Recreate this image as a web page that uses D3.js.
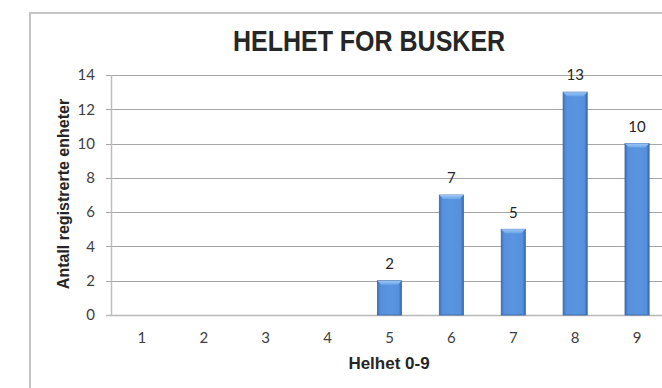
<!DOCTYPE html>
<html>
<head>
<meta charset="utf-8">
<script src="https://cdn.jsdelivr.net/npm/d3@7"></script>
<style>
  html, body { margin: 0; padding: 0; background: #fff; }
  svg { display: block; }
</style>
</head>
<body>
<svg id="chart" width="662" height="388"></svg>
<script>
// Ratings 1–9 and the number of registered units at each
const categories = ["1", "2", "3", "4", "5", "6", "7", "8", "9"];
const counts = [0, 0, 0, 0, 2, 7, 5, 13, 10];
const yTicks = [0, 2, 4, 6, 8, 10, 12, 14];

const titleText = "HELHET FOR BUSKER";
const xTitle = "Helhet 0-9";
const yTitle = "Antall registrerte enheter";

const svg = d3.select("#chart");
const plot = { left: 111, right: 668, top: 75, bottom: 315 };
const labelFont = "Lato, 'Open Sans', sans-serif";
const titleFont = "'Liberation Sans', Arial, sans-serif";

// Chart frame
svg.append("rect")
  .attr("x", 30).attr("y", 13)
  .attr("width", 700).attr("height", 400)
  .attr("fill", "#fff")
  .attr("stroke", "#c4c4c4").attr("stroke-width", 2);

const defs = svg.append("defs");
const grad = defs.append("linearGradient").attr("id", "barFill")
  .attr("x1", "0%").attr("x2", "100%").attr("y1", "0%").attr("y2", "0%");
grad.append("stop").attr("offset", "0%").attr("stop-color", "#3d6fb5");
grad.append("stop").attr("offset", "12%").attr("stop-color", "#5590dc");
grad.append("stop").attr("offset", "50%").attr("stop-color", "#5a95e0");
grad.append("stop").attr("offset", "88%").attr("stop-color", "#5590dc");
grad.append("stop").attr("offset", "100%").attr("stop-color", "#3a69aa");

const topGrad = defs.append("linearGradient").attr("id", "bevelFill")
  .attr("x1", "0%").attr("x2", "0%").attr("y1", "0%").attr("y2", "100%");
topGrad.append("stop").attr("offset", "0%").attr("stop-color", "#9cc6f5");
topGrad.append("stop").attr("offset", "100%").attr("stop-color", "#6aa6ea");

const x = d3.scaleBand()
  .domain(categories)
  .range([plot.left, plot.right])
  .paddingInner(0.61)
  .paddingOuter(0.305);

const y = d3.scaleLinear().domain([0, 14]).range([plot.bottom, plot.top]);

// Horizontal gridlines
svg.append("g")
  .selectAll("line")
  .data(yTicks)
  .join("line")
  .attr("x1", plot.left - 5).attr("x2", plot.right)
  .attr("y1", d => Math.round(y(d)) + 0.5)
  .attr("y2", d => Math.round(y(d)) + 0.5)
  .attr("stroke", d => d === 0 ? "#b8b8b8" : "#a6a6a6")
  .attr("stroke-width", d => d === 0 ? 1.5 : 1);

// Vertical axis line
svg.append("line")
  .attr("x1", plot.left + 0.5).attr("x2", plot.left + 0.5)
  .attr("y1", plot.top).attr("y2", plot.bottom)
  .attr("stroke", "#bdbdbd").attr("stroke-width", 1.5);

// Y tick labels
svg.append("g")
  .selectAll("text")
  .data(yTicks)
  .join("text")
  .attr("x", plot.left - 16)
  .attr("y", d => y(d))
  .attr("dy", "0.35em")
  .attr("text-anchor", "end")
  .attr("font-family", labelFont)
  .attr("font-size", 15)
  .attr("fill", "#404040")
  .text(d => d);

// X tick labels
svg.append("g")
  .selectAll("text")
  .data(categories)
  .join("text")
  .attr("x", d => x(d) + x.bandwidth() / 2)
  .attr("y", 338)
  .attr("dy", "0.35em")
  .attr("text-anchor", "middle")
  .attr("font-family", labelFont)
  .attr("font-size", 15)
  .attr("fill", "#404040")
  .text(d => d);

// Bars
const data = categories.map((c, i) => ({ c, v: counts[i] }));
const bars = svg.append("g").selectAll("g")
  .data(data.filter(d => d.v > 0))
  .join("g");

bars.append("rect")
  .attr("x", d => x(d.c))
  .attr("y", d => y(d.v))
  .attr("width", x.bandwidth())
  .attr("height", d => y(0) - y(d.v))
  .attr("fill", "url(#barFill)")
  .attr("stroke", "#3a68a8")
  .attr("stroke-width", 0.8);

// Bevel highlight on the bar tops
bars.append("path")
  .attr("d", d => {
    const x0 = x(d.c), x1 = x0 + x.bandwidth(), t = y(d.v);
    return `M${x0},${t} L${x1},${t} L${x1 - 4},${t + 4} L${x0 + 4},${t + 4} Z`;
  })
  .attr("fill", "url(#bevelFill)");

// Value labels
svg.append("g")
  .selectAll("text")
  .data(data.filter(d => d.v > 0))
  .join("text")
  .attr("x", d => x(d.c) + x.bandwidth() / 2)
  .attr("y", d => y(d.v) - 17)
  .attr("dy", "0.35em")
  .attr("text-anchor", "middle")
  .attr("font-family", labelFont)
  .attr("font-size", 15)
  .attr("fill", "#262626")
  .text(d => d.v);

// Titles
svg.append("text")
  .attr("transform", "translate(369,41) scale(1,1.15)")
  .attr("dy", "0.35em")
  .attr("text-anchor", "middle")
  .attr("font-family", titleFont)
  .attr("font-weight", "bold")
  .attr("font-size", 25)
  .attr("fill", "#262626")
  .text(titleText);

svg.append("text")
  .attr("x", 389).attr("y", 363.5)
  .attr("dy", "0.35em")
  .attr("text-anchor", "middle")
  .attr("font-family", titleFont)
  .attr("font-weight", "bold")
  .attr("font-size", 17)
  .attr("fill", "#262626")
  .text(xTitle);

svg.append("text")
  .attr("transform", "translate(63.5,194) rotate(-90)")
  .attr("dy", "0.35em")
  .attr("text-anchor", "middle")
  .attr("font-family", titleFont)
  .attr("font-weight", "bold")
  .attr("font-size", 16)
  .attr("fill", "#262626")
  .text(yTitle);
</script>
</body>
</html>
